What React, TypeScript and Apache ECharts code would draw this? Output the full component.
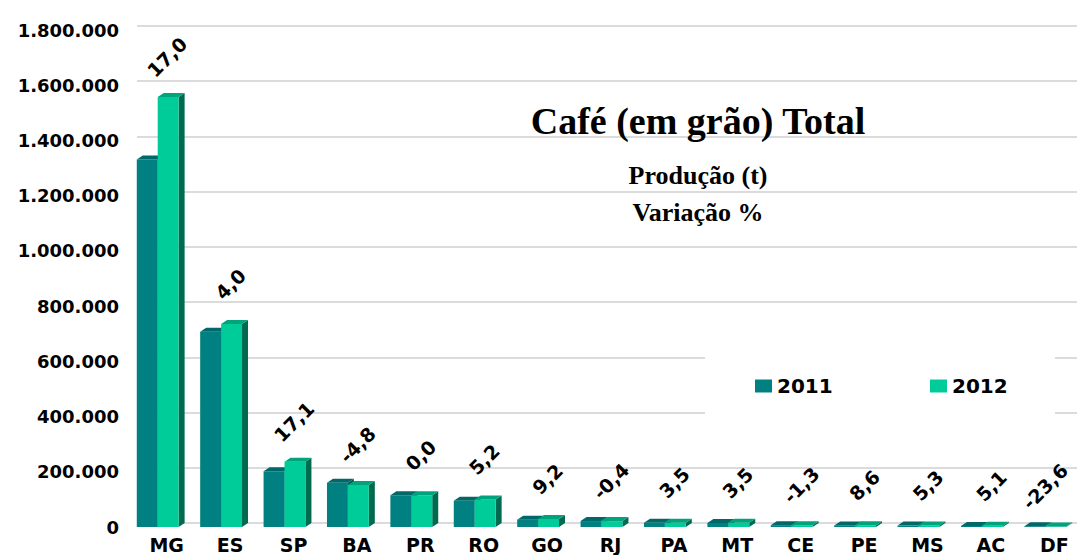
import React, { useEffect, useRef } from 'react';
import * as echarts from 'echarts';

const categories = ['MG', 'ES', 'SP', 'BA', 'PR', 'RO', 'GO', 'RJ', 'PA', 'MT', 'CE', 'PE', 'MS', 'AC', 'DF'];
const production2011 = [1331000, 707000, 202000, 160000, 115000, 95000, 26500, 21500, 15000, 14500, 6500, 5800, 5000, 4000, 2800];
const production2012 = [1557000, 735000, 236500, 152300, 115000, 100000, 28900, 21400, 15500, 15000, 6400, 6300, 5300, 4200, 2100];
const variation = [17.0, 4.0, 17.1, -4.8, 0.0, 5.2, 9.2, -0.4, 3.5, 3.5, -1.3, 8.6, 5.3, 5.1, -23.6];
const seriesNames = ['2011', '2012'];
const yMin = 0;
const yMax = 1800000;
const yStep = 200000;

const FRONT = ['#008080', '#00CC99'];
const TOP = ['#006868', '#00A47C'];
const SIDE = ['#005858', '#006A50'];
const DX = 6;
const DY = 4;

const fmtThousands = (v: number) => String(Math.round(v)).replace(/\B(?=(\d{3})+(?!\d))/g, '.');
const fmtPct = (v: number) => v.toFixed(1).replace('.', ',');

function makeRender(k: number) {
  return (params: any, api: any) => {
    const idx = api.value(0);
    const val = api.value(1);
    const top = api.coord([idx, val]);
    const base = api.coord([idx, 0]);
    const catW = api.size([1, 0])[0];
    const bw = catW * 0.33;
    const c = top[0];
    const x0 = c - bw + k * bw;
    const x1 = x0 + bw;
    const yT = top[1];
    const yB = base[1];
    const children: any[] = [
      {
        type: 'polygon',
        shape: { points: [[x1, yT], [x1 + DX, yT - DY], [x1 + DX, yB - DY], [x1, yB]] },
        style: { fill: SIDE[k] },
      },
      {
        type: 'rect',
        shape: { x: x0, y: yT, width: bw, height: Math.max(0, yB - yT) },
        style: { fill: FRONT[k] },
      },
      {
        type: 'polygon',
        shape: { points: [[x0, yT], [x0 + DX, yT - DY], [x1 + DX, yT - DY], [x1, yT]] },
        style: { fill: TOP[k] },
      },
    ];
    if (k === 1) {
      const lx = Math.min(c + bw / 2 - 1, api.getWidth() - 32);
      children.push({
        type: 'text',
        x: lx,
        y: yT - 40,
        rotation: Math.PI / 4,
        style: {
          text: fmtPct(variation[params.dataIndex]),
          fill: '#000',
          font: 'bold 19px "DejaVu Sans"',
          align: 'center',
          verticalAlign: 'middle',
          textAlign: 'center',
          textVerticalAlign: 'middle',
        },
      });
    }
    return { type: 'group', children };
  };
}

export default function App() {
  const ref = useRef<HTMLDivElement>(null);
  useEffect(() => {
    if (!ref.current) return;
    const chart = echarts.init(ref.current, undefined, { renderer: 'svg' });
    const textBase = { color: '#000', fontWeight: 'bold' as const, fontFamily: 'DejaVu Sans' };
    chart.setOption({
      animation: false,
      backgroundColor: '#fff',
      grid: [
        { left: 126, right: 0, top: 30, bottom: 28 },
        { left: 137, right: 0, top: 26, bottom: 32 },
      ],
      xAxis: [
        {
          type: 'category',
          gridIndex: 0,
          data: categories,
          axisLine: { show: false },
          axisTick: { show: false },
          axisLabel: {
            margin: 8,
            interval: 0,
            formatter: (v: string) => '{c|' + v + '}',
            rich: { c: { ...textBase, fontSize: 19, padding: [0, 0, 0, 18] } },
          },
        },
        {
          type: 'category',
          gridIndex: 1,
          data: categories,
          show: false,
        },
      ],
      yAxis: [
        {
          type: 'value',
          gridIndex: 0,
          min: yMin,
          max: yMax,
          interval: yStep,
          axisLine: { show: false },
          axisTick: { show: false },
          splitLine: { show: false },
          axisLabel: { ...textBase, fontSize: 18, margin: 7, formatter: (v: number) => fmtThousands(v) },
        },
        {
          type: 'value',
          gridIndex: 1,
          min: yMin,
          max: yMax,
          interval: yStep,
          axisLine: { show: false },
          axisTick: { show: false },
          axisLabel: { show: false },
          splitLine: { show: true, lineStyle: { color: '#cfcfcf', width: 1.5 } },
        },
      ],
      legend: [
        {
          data: [seriesNames[0]],
          left: 755,
          top: 376,
          padding: 0,
          itemWidth: 17,
          itemHeight: 13,
          icon: 'rect',
          textStyle: { ...textBase, fontSize: 20 },
          selectedMode: false,
          z: 5,
        },
        {
          data: [seriesNames[1]],
          left: 930,
          top: 376,
          padding: 0,
          itemWidth: 17,
          itemHeight: 13,
          icon: 'rect',
          textStyle: { ...textBase, fontSize: 20 },
          selectedMode: false,
          z: 5,
        },
      ],
      graphic: [
        {
          type: 'rect',
          z: 1,
          shape: { x: 705, y: 345, width: 350, height: 90 },
          style: { fill: '#fff' },
        },
        {
          type: 'text',
          x: 698,
          y: 121,
          z: 3,
          style: {
            text: 'Café (em grão) Total',
            fill: '#000',
            font: 'bold 38px "Liberation Serif"',
            textAlign: 'center',
            textVerticalAlign: 'middle',
            align: 'center',
            verticalAlign: 'middle',
          },
        },
        {
          type: 'text',
          x: 698,
          y: 175,
          z: 3,
          style: {
            text: 'Produção (t)',
            fill: '#000',
            font: 'bold 26px "Liberation Serif"',
            textAlign: 'center',
            textVerticalAlign: 'middle',
            align: 'center',
            verticalAlign: 'middle',
          },
        },
        {
          type: 'text',
          x: 698,
          y: 212,
          z: 3,
          style: {
            text: 'Variação %',
            fill: '#000',
            font: 'bold 26px "Liberation Serif"',
            textAlign: 'center',
            textVerticalAlign: 'middle',
            align: 'center',
            verticalAlign: 'middle',
          },
        },
      ],
      series: [0, 1].map((k) => ({
        type: 'custom',
        name: seriesNames[k],
        xAxisIndex: 0,
        yAxisIndex: 0,
        z: 3 + k,
        itemStyle: { color: FRONT[k] },
        encode: { x: 0, y: 1 },
        data: (k === 0 ? production2011 : production2012).map((v, i) => [i, v]),
        renderItem: makeRender(k),
      })),
    });
    return () => chart.dispose();
  }, []);
  return (
    <div
      ref={ref}
      style={{ position: 'fixed', left: 0, top: 0, width: 1077, height: 555, background: '#fff' }}
    />
  );
}
